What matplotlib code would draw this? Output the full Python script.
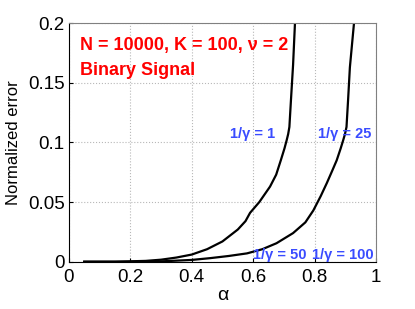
import numpy as np
import matplotlib
matplotlib.use("Agg")
import matplotlib.pyplot as plt

plt.rcParams['font.family'] = ['Liberation Sans', 'DejaVu Sans']

# curve for 1/gamma = 1 (and 50 overlaps the left one)
alpha_1 = [0.05, 0.15, 0.25, 0.30, 0.35, 0.40, 0.45, 0.50, 0.55, 0.575, 0.59, 0.62, 0.655, 0.675,
           0.69, 0.702, 0.709, 0.714, 0.718, 0.723, 0.730, 0.736]
err_1 = [0.0, 0.0, 0.0007, 0.0017, 0.0035, 0.006, 0.0105, 0.017, 0.027, 0.034, 0.041, 0.050, 0.063, 0.073,
         0.085, 0.095, 0.1017, 0.107, 0.113, 0.135, 0.165, 0.199]

# curve for 1/gamma = 25
alpha_2 = [0.05, 0.20, 0.30, 0.40, 0.46, 0.52, 0.58, 0.63, 0.676, 0.73, 0.77, 0.796, 0.82, 0.84, 0.857,
           0.872, 0.885, 0.893, 0.899, 0.904, 0.909, 0.915, 0.928]
err_2 = [0.0, 0.0, 0.0003, 0.0015, 0.003, 0.0048, 0.007, 0.0105, 0.0155, 0.024, 0.033, 0.043, 0.055, 0.066, 0.076,
         0.085, 0.095, 0.1017, 0.107, 0.113, 0.135, 0.163, 0.199]

xticks = [0, 0.2, 0.4, 0.6, 0.8, 1]
xtick_labels = ['0', '0.2', '0.4', '0.6', '0.8', '1']
yticks = [0, 0.05, 0.1, 0.15, 0.2]
ytick_labels = ['0', '0.05', '0.1', '0.15', '0.2']

fig = plt.figure(figsize=(4.15, 3.09), dpi=100)
ax = fig.add_axes([0.166, 0.153, 0.74, 0.772])

ax.plot(alpha_1, err_1, color='black', lw=1.6)
ax.plot(alpha_2, err_2, color='black', lw=1.6)

ax.set_xlim(0, 1)
ax.set_ylim(0, 0.2)
ax.set_xticks(xticks)
ax.set_xticklabels(xtick_labels)
ax.set_yticks(yticks)
ax.set_yticklabels(ytick_labels)
ax.tick_params(direction='in', labelsize=13.5, length=3)
ax.tick_params(axis='x', pad=5)
ax.tick_params(axis='y', pad=3)
ax.grid(True, linestyle=':', color='#b8b8b8', lw=0.8)
for s in ['top', 'right']:
    ax.spines[s].set_color('#808080')
ax.set_xlabel('α', fontsize=14, labelpad=1)
ax.set_ylabel('Normalized error', fontsize=12, labelpad=5)

red = '#ff0000'
blue = '#3a4cff'
ax.text(0.035, 0.907, 'N = 10000, K = 100, ν = 2', transform=ax.transAxes,
        color=red, fontsize=13, fontweight='bold', va='center')
ax.text(0.035, 0.803, 'Binary Signal', transform=ax.transAxes,
        color=red, fontsize=13, fontweight='bold', va='center')

lab_kw = dict(color=blue, fontsize=10.5, fontweight='bold', va='center', ha='left')
ax.text(0.525, 0.107, '1/γ = 1', **lab_kw)
ax.text(0.81, 0.107, '1/γ = 25', **lab_kw)
ax.text(0.598, 0.0055, '1/γ = 50', **lab_kw)
ax.text(0.792, 0.0055, '1/γ = 100', **lab_kw)

fig.savefig('out.png', dpi=100)
